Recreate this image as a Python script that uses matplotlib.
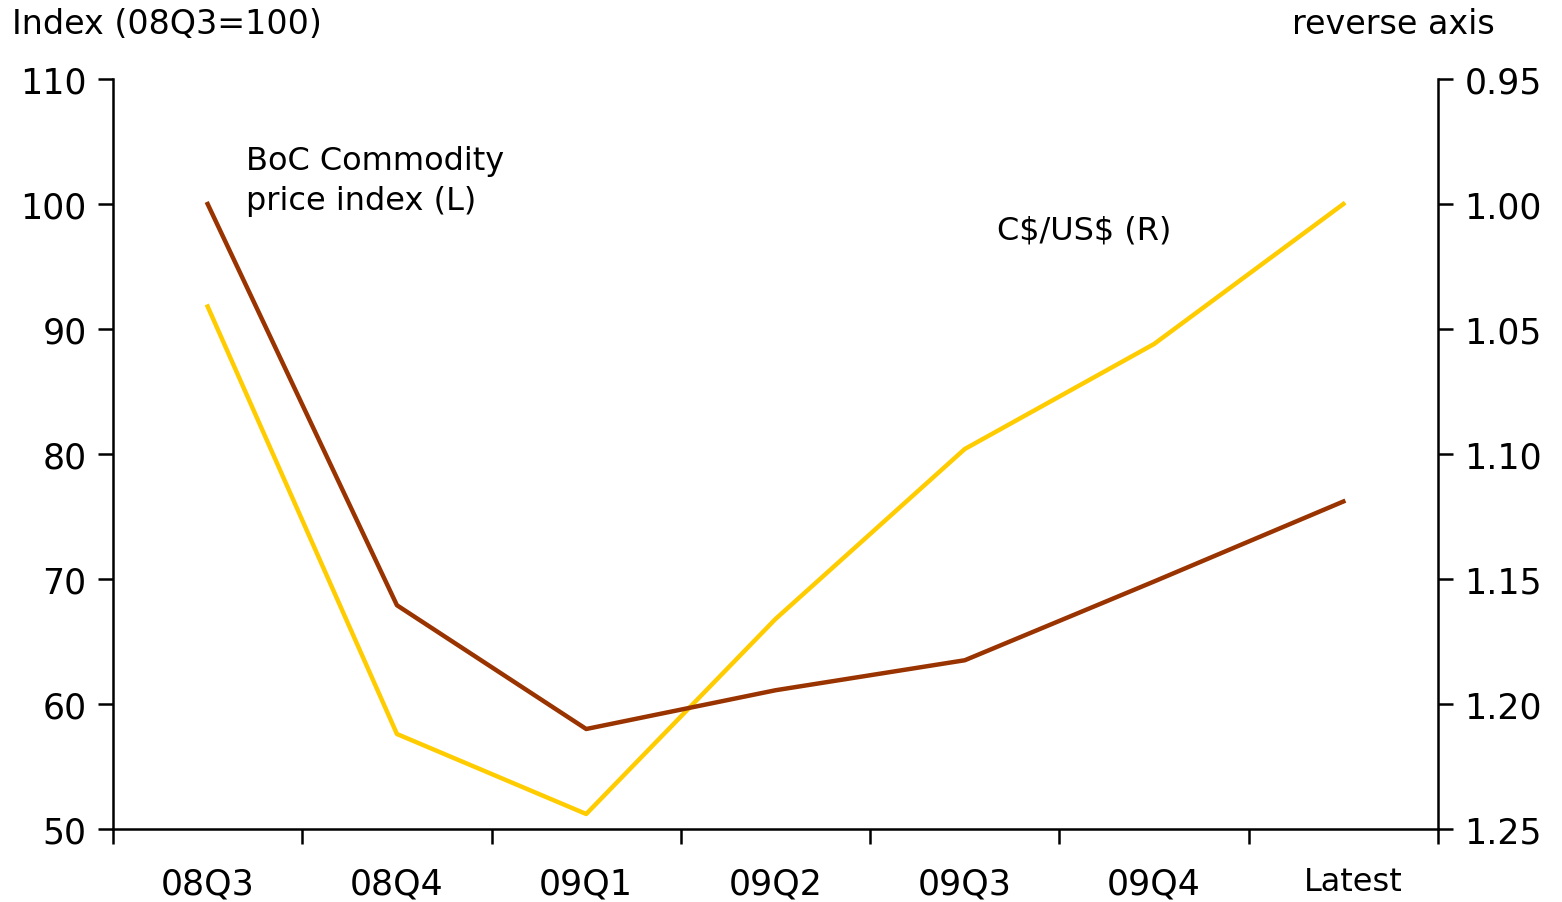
import matplotlib
matplotlib.use("Agg")
import matplotlib.pyplot as plt
from matplotlib.transforms import ScaledTranslation

categories = ["08Q3", "08Q4", "09Q1", "09Q2", "09Q3", "09Q4", "Latest"]
commodity_index = [100.0, 67.9, 58.0, 61.1, 63.5, 69.8, 76.2]
cad_usd = [1.041, 1.212, 1.244, 1.166, 1.098, 1.056, 1.000]

brown = "#993300"
yellow = "#FFCC00"

plt.rcParams["font.family"] = ["DejaVu Sans"]

fig = plt.figure(figsize=(15.62, 9.03), dpi=100)
ax = fig.add_axes([113 / 1562, 1 - 830 / 903, (1438 - 113) / 1562, (830 - 80) / 903])
ax2 = ax.twinx()

x = list(range(len(categories)))
ax.plot(x, commodity_index, color=brown, lw=3.2, zorder=3)
ax2.plot(x, cad_usd, color=yellow, lw=3.2, zorder=2)
ax.set_zorder(ax2.get_zorder() + 1)
ax.patch.set_visible(False)

ax.set_xlim(-0.5, len(categories) - 0.5)
ax.set_ylim(50, 110)
ax.set_yticks(range(50, 111, 10))
ax2.set_ylim(1.25, 0.95)
ax2.set_yticks([0.95, 1.00, 1.05, 1.10, 1.15, 1.20, 1.25])
ax2.set_yticklabels(["0.95", "1.00", "1.05", "1.10", "1.15", "1.20", "1.25"])

# category boundaries get the tick marks, labels sit at the centres
ax.set_xticks([i - 0.5 for i in range(len(categories) + 1)])
ax.set_xticklabels([])
ax.set_xticks(x, minor=True)
ax.set_xticklabels(categories, minor=True, fontsize=25)
ax.tick_params(axis="x", which="major", direction="out", length=11, width=1.8)
ax.tick_params(axis="x", which="minor", length=0, pad=27)
ax.tick_params(axis="y", direction="out", length=11, width=1.8, labelsize=25, pad=8)
ax2.tick_params(axis="y", direction="out", length=11, width=1.8, labelsize=25, pad=8)
for lbl in ax.get_xticklabels(minor=True):
    if lbl.get_text() == "Latest":
        lbl.set_fontsize(23)
        lbl.set_transform(lbl.get_transform() + ScaledTranslation(0.1, 0, fig.dpi_scale_trans))

for a in (ax, ax2):
    a.spines["top"].set_visible(False)
    for s in ("left", "right", "bottom"):
        a.spines[s].set_linewidth(1.8)
ax.spines["right"].set_visible(False)
ax2.spines["left"].set_visible(False)
ax2.spines["bottom"].set_visible(False)

ax.text(0.2, 104.7, "BoC Commodity\nprice index (L)", fontsize=23, va="top", ha="left",
        linespacing=1.37)
ax.text(4.17, 97.9, r"C\$/US\$ (R)", fontsize=23, va="center", ha="left")

fig.text(12 / 1562, 1 - 25 / 903, "Index (08Q3=100)", fontsize=24, va="center", ha="left")
fig.text(1495 / 1562, 1 - 25 / 903, "reverse axis", fontsize=24, va="center", ha="right")

fig.savefig("out.png", dpi=100)
